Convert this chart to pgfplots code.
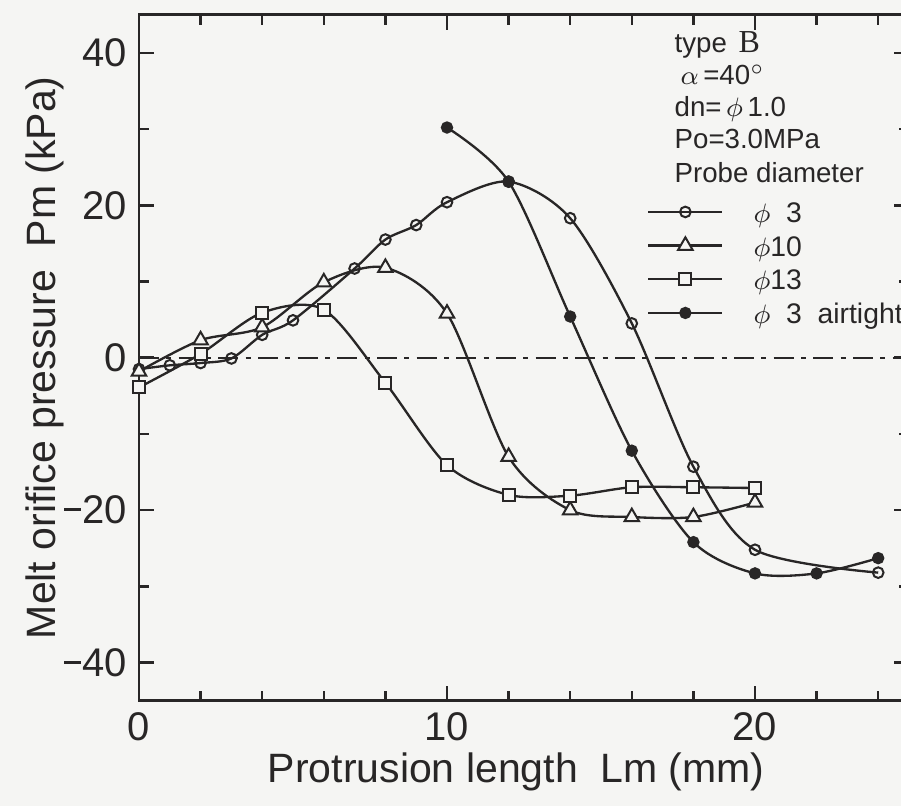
\documentclass[border=0pt]{standalone}
\usepackage{fontspec}
\setmainfont{Liberation Sans}
\newfontfamily\serifB{Liberation Serif}
\usepackage{pgfplots}
\usepackage{pgfplotstable}
\pgfplotsset{compat=1.18}
\definecolor{bg}{RGB}{245,245,243}
\definecolor{ink}{RGB}{40,38,38}
\newcommand{\mns}{\raisebox{3.85pt}{\rule{5pt}{0.9pt}}\hspace{0.6pt}}

\pgfplotstableread{
x y
0 -1.5
1 -1.0
2 -0.7
3 -0.1
4 3.0
5 4.9
7 11.7
8 15.5
9 17.4
10 20.4
12 23.1
14 18.3
16 4.5
18 -14.3
20 -25.2
24 -28.2
}\dThree

\pgfplotstableread{
x y
0 -1.8
2 2.3
4 4.0
6 9.9
8 11.8
10 5.8
12 -13.0
14 -20.0
16 -20.9
18 -20.9
20 -19.0
}\dTen

\pgfplotstableread{
x y
0 -3.9
2 0.5
4 5.9
6 6.3
8 -3.3
10 -14.1
12 -18.0
14 -18.1
16 -17.0
18 -17.0
20 -17.1
}\dThirteen

\pgfplotstableread{
x y
10 30.2
12 23.1
14 5.4
16 -12.2
18 -24.2
20 -28.3
22 -28.3
24 -26.3
}\dAir

\begin{document}
\begin{tikzpicture}
\useasboundingbox (-41.7pt,-31.6pt) rectangle (228.6pt,210.2pt);
\fill[bg] (-41.7pt,-31.6pt) rectangle (228.6pt,210.2pt);
\clip (-41.7pt,-31.6pt) rectangle (228.6pt,210.2pt);
\begin{axis}[
  scale only axis, width=231pt, height=205.8pt,
  at={(0pt,0pt)}, anchor=south west,
  xmin=0, xmax=25, ymin=-45, ymax=45,
  xtick={0,10,20}, xticklabels={0,10,20},
  minor xtick={2,4,6,8,12,14,16,18,22,24},
  ytick={-40,-20,0,20,40}, yticklabels={\mns40,\mns20,0,20,40},
  minor ytick={-30,-10,10,30},
  tick align=inside, major tick length=4.5pt, minor tick length=3pt,
  axis line style={line width=0.75pt, draw=ink},
  tick style={line width=0.75pt, draw=ink},
  tick label style={font=\fontsize{12}{14}\selectfont, text=ink},
  every axis x label/.style={at={(axis description cs:0.49,-0.119)}, anchor=base},
  every axis y label/.style={at={(axis description cs:-0.1078,0.5)}, rotate=90, anchor=base},
  label style={font=\fontsize{12.3}{14}\selectfont, text=ink},
  xlabel={Protrusion length\ \ Lm (mm)},
  ylabel={Melt orifice pressure\ \ Pm (kPa)},
  legend style={at={(axis cs:16.5,20.5)}, anchor=north west, draw=none, fill=none,
    inner sep=0pt, outer sep=0pt, row sep=3.8pt, column sep=9pt,
    font=\fontsize{8.5}{9.8}\selectfont,
    nodes={inner sep=0pt, text height=6.3pt, text depth=0pt, text=ink}},
  legend cell align=left,
  legend image code/.code={\draw[#1, mark repeat=2, mark phase=2] plot coordinates {(0pt,0pt) (11.1pt,0pt) (22.2pt,0pt)};},
]
\addplot[ink, line width=0.7pt, smooth, mark=o, mark size=1.6pt, mark options={fill=bg, line width=0.6pt}] table[x=x,y=y] {\dThree};
\addlegendentry{$\phi$\phantom{1}3}
\addplot[ink, line width=0.7pt, smooth, mark=triangle*, mark size=2.5pt, mark options={fill=bg, line width=0.6pt}] table[x=x,y=y] {\dTen};
\addlegendentry{$\phi$10}
\addplot[ink, line width=0.7pt, smooth, mark=square*, mark size=1.8pt, mark options={fill=bg, line width=0.6pt}] table[x=x,y=y] {\dThirteen};
\addlegendentry{$\phi$13}
\addplot[ink, line width=0.7pt, smooth, mark=*, mark size=1.5pt, mark options={fill=ink}] table[x=x,y=y] {\dAir};
\addlegendentry{$\phi$\phantom{1}3\ \ airtight}
\addplot[ink, line width=0.7pt, dash pattern=on 6pt off 2.2pt on 1.5pt off 2.2pt, forget plot] coordinates {(0,0) (25,0)};
\node[anchor=base west, inner sep=0pt, text=ink, font=\fontsize{8.3}{9.8}\selectfont] at (axis cs:17.37,40.1) {type\hspace{3.5pt}{\serifB\fontsize{9.6}{10}\selectfont B}};
\node[anchor=base west, inner sep=0pt, text=ink, font=\fontsize{8.3}{9.8}\selectfont] at (axis cs:17.56,35.9) {$\alpha$\,=40$^{\circ}$};
\node[anchor=base west, inner sep=0pt, text=ink, font=\fontsize{8.3}{9.8}\selectfont] at (axis cs:17.37,31.7) {dn=\,$\phi$\,1.0};
\node[anchor=base west, inner sep=0pt, text=ink, font=\fontsize{8.3}{9.8}\selectfont] at (axis cs:17.37,27.4) {Po=3.0MPa};
\node[anchor=base west, inner sep=0pt, text=ink, font=\fontsize{8.3}{9.8}\selectfont] at (axis cs:17.37,23.0) {Probe diameter};
\end{axis}
\end{tikzpicture}
\end{document}
